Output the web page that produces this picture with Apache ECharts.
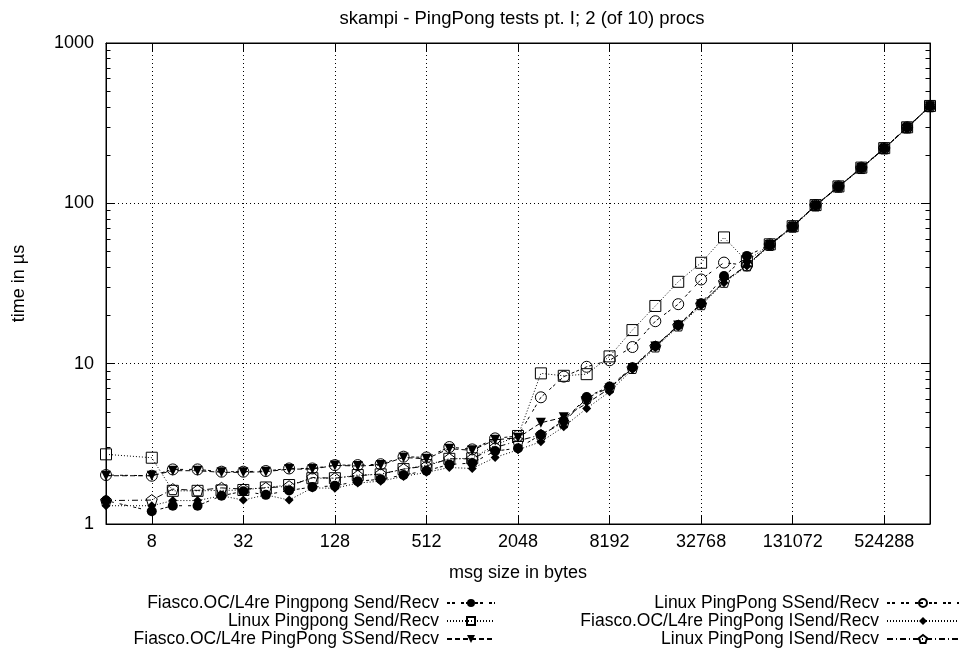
<!DOCTYPE html>
<html>
<head>
<meta charset="utf-8">
<script src="https://cdn.jsdelivr.net/npm/echarts@6/dist/echarts.min.js"></script>
<style>
  html, body { margin: 0; padding: 0; background: #fff; }
  #chart { width: 964px; height: 652px; }
</style>
</head>
<body>
<div id="chart"></div>
<script>
// message sizes in bytes (x positions of all series)
const sizes = [4, 8, 11, 16, 23, 32, 45, 64, 91, 128, 181, 256, 362, 512, 724, 1024, 1448, 2048,
  2896, 4096, 5793, 8192, 11585, 16384, 23170, 32768, 46341, 65536, 92682, 131072, 185364,
  262144, 370728, 524288, 741455, 1048576];

// times in microseconds
const fiascoSend = [1.40, 1.20, 1.30, 1.30, 1.50, 1.60, 1.52, 1.62, 1.70, 1.73, 1.85, 1.90, 2.02, 2.15, 2.35, 2.40, 2.85, 2.97,
  3.60, 4.40, 6.20, 7.20, 9.50, 12.9, 17.4, 23.8, 35.2, 47.0, 55.0, 71.5, 97.0, 127, 166, 220, 297, 403];
const linuxSend = [2.72, 2.59, 1.61, 1.61, 1.62, 1.63, 1.69, 1.75, 1.93, 1.93, 2.02, 2.04, 2.20, 2.33, 2.55, 2.57, 3.11, 3.54,
  8.70, 8.40, 8.60, 11.1, 16.2, 22.9, 32.4, 42.6, 61.3, 43.5, 55.5, 72.0, 97.5, 127.5, 167, 221, 298, 405];
const fiascoSSend = [2.00, 2.00, 2.15, 2.15, 2.10, 2.10, 2.12, 2.20, 2.20, 2.32, 2.30, 2.33, 2.60, 2.55, 2.95, 2.88, 3.35, 3.45,
  4.28, 4.63, 5.65, 7.00, 9.40, 12.8, 17.3, 23.5, 32.4, 41.2, 55.0, 71.5, 97.0, 127, 166, 220, 297, 403];
const linuxSSend = [2.02, 2.00, 2.19, 2.19, 2.12, 2.12, 2.14, 2.22, 2.22, 2.33, 2.33, 2.36, 2.63, 2.60, 3.02, 2.92, 3.42, 3.54,
  6.17, 8.30, 9.56, 10.5, 12.7, 18.4, 23.5, 33.5, 42.7, 41.0, 55.5, 72.0, 97.5, 127.5, 167, 221, 298, 405];
const fiascoISend = [1.30, 1.30, 1.40, 1.40, 1.50, 1.41, 1.52, 1.41, 1.68, 1.67, 1.80, 1.85, 1.98, 2.10, 2.25, 2.22, 2.60, 2.90,
  3.26, 4.04, 5.26, 6.68, 9.20, 12.6, 17.0, 23.0, 32.0, 40.6, 54.5, 71.0, 96.5, 126, 165, 219, 295, 400];
const linuxISend = [1.40, 1.41, 1.65, 1.62, 1.68, 1.65, 1.68, 1.72, 1.95, 1.93, 2.00, 2.05, 2.20, 2.30, 2.55, 2.55, 3.00, 3.30,
  3.60, 4.30, 6.10, 7.10, 9.40, 12.8, 17.3, 23.5, 32.4, 41.0, 55.0, 71.5, 97.0, 127, 166, 220, 297, 403];

// tick labels
const xTicks = [8, 32, 128, 512, 2048, 8192, 32768, 131072, 524288];
const yTicks = [1, 10, 100, 1000];
const yMinor = [2, 3, 4, 5, 6, 7, 8, 9, 20, 30, 40, 50, 60, 70, 80, 90, 200, 300, 400, 500, 600, 700, 800, 900];

const names = [
  'Fiasco.OC/L4re Pingpong Send/Recv',
  'Linux Pingpong Send/Recv',
  'Fiasco.OC/L4re PingPong SSend/Recv',
  'Linux PingPong SSend/Recv',
  'Fiasco.OC/L4re PingPong ISend/Recv',
  'Linux PingPong ISend/Recv'
];

const FONT = 'Liberation Sans, Arial, Helvetica, sans-serif';
const hollow = { color: 'rgba(0,0,0,0)', borderColor: '#000', borderWidth: 1 };
const solid = { color: '#000', borderColor: '#000', borderWidth: 0 };

function pairs(ys) {
  return sizes.map((s, i) => [s, ys[i]]);
}

function mkSeries(name, ys, symbol, size, dash, item, rot) {
  return {
    name: name,
    type: 'line',
    data: pairs(ys),
    symbol: symbol,
    symbolSize: size,
    symbolRotate: rot || 0,
    showSymbol: true,
    lineStyle: { color: '#000', width: 1, type: dash },
    itemStyle: item,
    emphasis: { disabled: true }
  };
}

const pentagon = 'path://M0,-10L9.5,-3.1L5.9,8.1L-5.9,8.1L-9.5,-3.1Z';

const chart = echarts.init(document.getElementById('chart'));

function legendAt(name, right, top, w) {
  return {
    data: [name],
    right: right,
    top: top,
    align: 'right',
    padding: 0,
    itemGap: 0,
    itemWidth: w,
    itemHeight: 10,
    selectedMode: false,
    textStyle: { fontFamily: FONT, fontSize: 17.5, color: '#000', padding: [0, 3, 0, 0] }
  };
}

const axisTxt = { fontFamily: FONT, fontSize: 18, color: '#000' };
const plain = v => String(Math.round(v));

chart.setOption({
  animation: false,
  backgroundColor: '#fff',
  title: {
    text: 'skampi - PingPong tests pt. I; 2 (of 10) procs',
    left: 517,
    top: 4,
    textAlign: 'center',
    textStyle: { fontFamily: FONT, fontSize: 18.5, fontWeight: 'normal', color: '#000' }
  },
  legend: [
    legendAt(names[0], 468, 594, 48),
    legendAt(names[1], 468, 612, 48),
    legendAt(names[2], 468, 630, 48),
    legendAt(names[3], 4, 594, 72),
    legendAt(names[4], 4, 612, 72),
    legendAt(names[5], 4, 630, 72)
  ],
  grid: { left: 106, right: 34, top: 43, bottom: 128, show: true, borderColor: '#000', borderWidth: 1 },
  xAxis: [
    {
      type: 'log', logBase: 2, min: 4, max: 1048576, position: 'bottom',
      name: 'msg size in bytes', nameLocation: 'middle', nameGap: 40,
      nameTextStyle: axisTxt,
      axisLine: { lineStyle: { color: '#000', width: 1 } },
      axisTick: { inside: true, length: 9, customValues: xTicks, lineStyle: { color: '#000' } },
      axisLabel: { customValues: xTicks, margin: 9, formatter: plain, ...axisTxt },
      splitLine: { show: true, lineStyle: { color: '#000', type: [1, 3], width: 1 } },
      minorTick: { show: false }
    },
    {
      type: 'log', logBase: 2, min: 4, max: 1048576, position: 'top',
      axisLine: { lineStyle: { color: '#000', width: 1 } },
      axisTick: { inside: true, length: 9, customValues: xTicks, lineStyle: { color: '#000' } },
      axisLabel: { show: false },
      splitLine: { show: false }
    }
  ],
  yAxis: [
    {
      type: 'log', logBase: 10, min: 1, max: 1000, position: 'left',
      name: 'time in µs', nameLocation: 'middle', nameGap: 78,
      nameTextStyle: axisTxt,
      axisLine: { show: true, lineStyle: { color: '#000', width: 1 } },
      axisTick: { show: true, inside: true, length: 9, customValues: yTicks, lineStyle: { color: '#000' } },
      axisLabel: { customValues: yTicks, margin: 12, formatter: plain, ...axisTxt },
      splitLine: { show: true, lineStyle: { color: '#000', type: [1, 3], width: 1 } }
    },
    {
      type: 'log', logBase: 10, min: 1, max: 1000, position: 'left',
      axisLine: { show: false },
      axisTick: { show: true, inside: true, length: 4.5, customValues: yMinor, lineStyle: { color: '#000' } },
      axisLabel: { show: false },
      splitLine: { show: false }
    },
    {
      type: 'log', logBase: 10, min: 1, max: 1000, position: 'right',
      axisLine: { show: true, lineStyle: { color: '#000', width: 1 } },
      axisTick: { show: true, inside: true, length: 9, customValues: yTicks, lineStyle: { color: '#000' } },
      axisLabel: { show: false },
      splitLine: { show: false }
    },
    {
      type: 'log', logBase: 10, min: 1, max: 1000, position: 'right',
      axisLine: { show: false },
      axisTick: { show: true, inside: true, length: 4.5, customValues: yMinor, lineStyle: { color: '#000' } },
      axisLabel: { show: false },
      splitLine: { show: false }
    }
  ],
  series: [
    mkSeries(names[0], fiascoSend, 'circle', 10, [3, 2, 3, 6], solid),
    mkSeries(names[1], linuxSend, 'rect', 11, [1, 2], hollow),
    mkSeries(names[2], fiascoSSend, 'triangle', 10, [5, 3], solid, 180),
    mkSeries(names[3], linuxSSend, 'circle', 11, [3, 2, 3, 6], hollow),
    mkSeries(names[4], fiascoISend, 'diamond', 9, [1, 2], solid),
    mkSeries(names[5], linuxISend, pentagon, 11, [6, 3, 1, 3], hollow)
  ]
});
</script>
</body>
</html>
